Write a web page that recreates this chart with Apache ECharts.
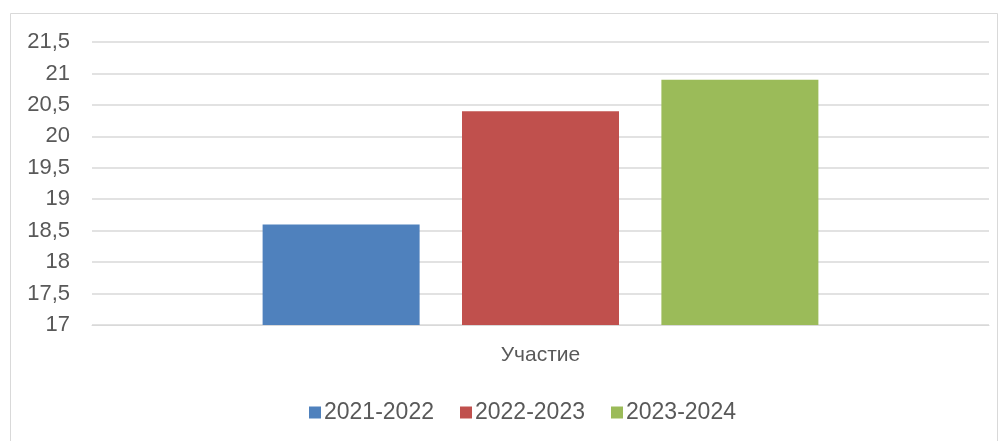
<!DOCTYPE html>
<html>
<head>
<meta charset="utf-8">
<script src="https://cdn.jsdelivr.net/npm/echarts@6/dist/echarts.min.js"></script>
<style>
  html, body { margin: 0; padding: 0; background: #fff; }
  #chart { width: 1007px; height: 441px; }
</style>
</head>
<body>
<div id="chart"></div>
<script>
// data
const categories = ["Участие"];
const seriesNames = ["2021-2022", "2022-2023", "2023-2024"];
const seriesValues = [[18.6], [20.4], [20.9]];
const colors = ["#4f81bd", "#c0504d", "#9bbb59"];

const font = "'Liberation Sans', Arial, sans-serif";
const chart = echarts.init(document.getElementById("chart"));

const series = seriesNames.map((name, i) => ({
    name: name,
    type: "bar",
    data: seriesValues[i],
    barWidth: 157,
    barGap: "27%",
    itemStyle: { color: colors[i] },
}));

chart.setOption({
    animation: false,
    backgroundColor: "#fff",
    graphic: [
        {
            type: "rect",
            shape: { x: 10.5, y: 13.5, width: 987, height: 440 },
            style: { fill: null, stroke: "#d9d9d9", lineWidth: 1 },
            silent: true,
        },
    ],
    grid: { left: 92, right: 18, top: 42, bottom: 116 },
    legend: {
        top: 396,
        left: 304,
        itemWidth: 12,
        itemHeight: 12,
        itemGap: 26,
        icon: "rect",
        textStyle: { fontFamily: font, fontSize: 23, color: "#595959", padding: [0, 0, 0, -2] },
        data: seriesNames,
    },
    xAxis: {
        type: "category",
        data: categories,
        axisLine: { lineStyle: { color: "#d9d9d9" } },
        axisTick: { show: false },
        axisLabel: { fontFamily: font, fontSize: 21, color: "#595959", margin: 20 },
    },
    yAxis: {
        type: "value",
        min: 17,
        max: 21.5,
        interval: 0.5,
        axisLine: { show: false },
        axisTick: { show: false },
        splitLine: { lineStyle: { color: "#d9d9d9", width: 1.5 } },
        axisLabel: {
            fontFamily: font,
            fontSize: 22,
            color: "#595959",
            margin: 22,
            formatter: v => String(v).replace(".", ","),
        },
    },
    series: series,
});
</script>
</body>
</html>
